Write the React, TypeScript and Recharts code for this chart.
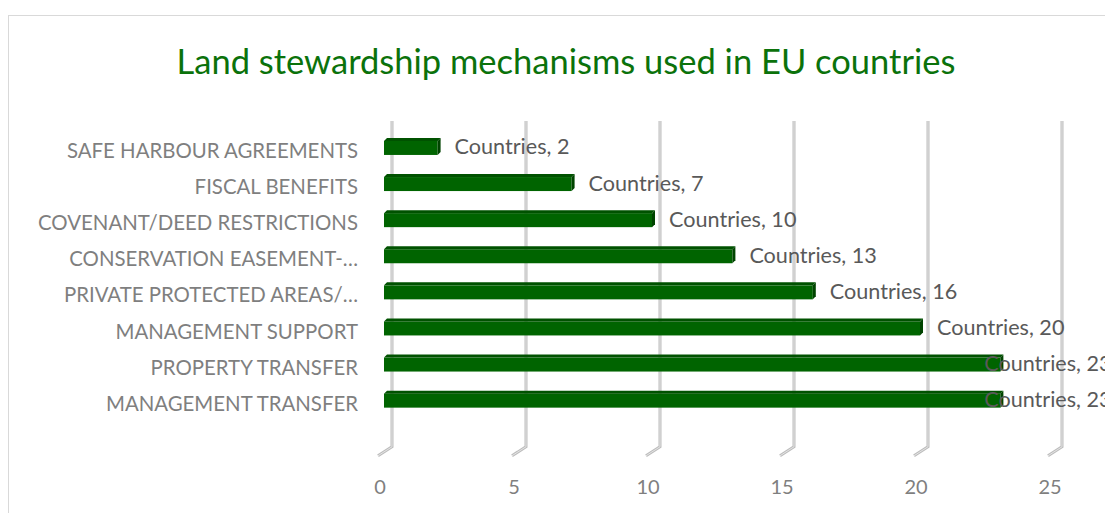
import React from "react";
import { BarChart, Bar, XAxis, YAxis, CartesianGrid, LabelList } from "recharts";

const categories = [
  "SAFE HARBOUR AGREEMENTS",
  "FISCAL BENEFITS",
  "COVENANT/DEED RESTRICTIONS",
  "CONSERVATION EASEMENT-…",
  "PRIVATE PROTECTED AREAS/…",
  "MANAGEMENT SUPPORT",
  "PROPERTY TRANSFER",
  "MANAGEMENT TRANSFER",
];
const countries = [2, 7, 10, 13, 16, 20, 23, 23];
const xTicks = [0, 5, 10, 15, 20, 25];
const seriesName = "Countries";
const title = "Land stewardship mechanisms used in EU countries";

const data = categories.map((c, i) => ({ name: c, value: countries[i] }));

const FONT = "Lato, 'Open Sans', sans-serif";
const W = 1097;
const H = 505;

const Bar3D = (props: any) => {
  const { x, y, width, height } = props;
  if (width == null || width <= 0) return null;
  const d = 3;
  return (
    <g>
      <rect x={x} y={y + d} width={width} height={height - d} fill="#006400" />
      <path
        d={`M${x},${y + d} L${x + d},${y} L${x + width + d},${y} L${x + width},${y + d} Z`}
        fill="#005200"
      />
      <path
        d={`M${x + width},${y + d} L${x + width + d},${y} L${x + width + d},${y + height - d} L${x + width},${y + height} Z`}
        fill="#004400"
      />
    </g>
  );
};

const CatTick = (props: any) => {
  const { x, y, payload } = props;
  return (
    <text x={x - 26} y={y} dy={12} textAnchor="end" fill="#7f7f7f" fontSize={20.4} fontFamily={FONT}>
      {payload.value}
    </text>
  );
};

const NumTick = (props: any) => {
  const { x, y, payload } = props;
  return (
    <text x={x - 4} y={y + 70} dy={7} textAnchor="middle" fill="#7f7f7f" fontSize={20} fontFamily={FONT}>
      {payload.value}
    </text>
  );
};

const GridLine = (props: any) => {
  const { x1, y1, y2 } = props;
  const x = x1;
  const dPath = `M${x + 8},${y1 - 7} L${x + 8},${y2 + 30} L${x - 6},${y2 + 39}`;
  return (
    <g key={props.key}>
      <path d={dPath} stroke="#bdbdbd" strokeWidth={3} fill="none" />
      <path d={dPath} stroke="#e4e4e4" strokeWidth={1} fill="none" />
    </g>
  );
};

const DataLabel = (props: any) => {
  const { x, y, width, height, value } = props;
  const text = `${seriesName}, ${value}`;
  const estW = text.length * 9.6;
  const limit = 1101;
  let lx = x + width + 17;
  if (lx + estW > limit) lx = limit - estW;
  return (
    <text x={lx} y={y + height / 2} dy={8} fill="#595959" fontSize={21.6} fontFamily={FONT}>
      {text}
    </text>
  );
};

export default function App() {
  return (
    <div style={{ position: "fixed", left: 8, top: 8, width: W, height: H, overflow: "hidden", background: "#fff" }}>
      <div
        style={{
          position: "absolute",
          left: 0,
          top: 7,
          width: 1300,
          height: 700,
          borderLeft: "1px solid #d9d9d9",
          borderTop: "1px solid #d9d9d9",
          boxSizing: "border-box",
        }}
      />
      <div
        style={{
          position: "absolute",
          left: 0,
          top: 33,
          width: 1116,
          textAlign: "center",
          fontFamily: FONT,
          fontSize: 34.5,
          lineHeight: "40px",
          color: "#0b720b",
          whiteSpace: "nowrap",
        }}
      >
        {title}
      </div>
      <div style={{ position: "absolute", left: 0, top: 0 }}>
        <BarChart
          width={W}
          height={H}
          data={data}
          layout="vertical"
          margin={{ top: 119.95, right: 51, bottom: 66.25, left: 0 }}
          barSize={17}
        >
          <CartesianGrid horizontal={false} vertical={GridLine as any} />
          <XAxis
            type="number"
            domain={[0, 25]}
            ticks={xTicks}
            axisLine={false}
            tickLine={false}
            tickSize={0}
            tickMargin={0}
            height={30}
            tick={<NumTick />}
            interval={0}
          />
          <YAxis
            type="category"
            dataKey="name"
            width={376}
            axisLine={false}
            tickLine={false}
            tickSize={0}
            tickMargin={0}
            tick={<CatTick />}
            interval={0}
          />
          <Bar dataKey="value" name={seriesName} shape={<Bar3D />} isAnimationActive={false}>
            <LabelList dataKey="value" content={<DataLabel />} />
          </Bar>
        </BarChart>
      </div>
    </div>
  );
}
